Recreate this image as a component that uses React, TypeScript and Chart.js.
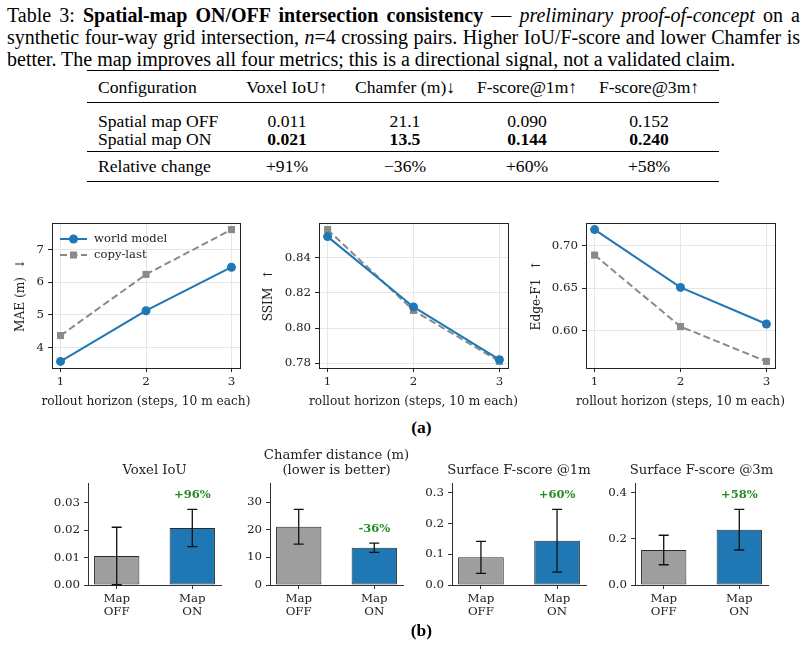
import React, { useEffect, useRef } from "react";
import { Chart, registerables } from "chart.js";
Chart.register(...registerables);

// ---------------- data ----------------
const HORIZON = [1, 2, 3];
const MAE_WORLD = [3.58, 5.13, 6.46];
const MAE_COPY = [4.37, 6.24, 7.61];
const SSIM_WORLD = [0.852, 0.812, 0.782];
const SSIM_COPY = [0.856, 0.81, 0.781];
const EDGE_WORLD = [0.719, 0.651, 0.608];
const EDGE_COPY = [0.689, 0.605, 0.564];
const MAE_TICKS = [4, 5, 6, 7];
const SSIM_TICKS = [0.78, 0.8, 0.82, 0.84];
const EDGE_TICKS = [0.6, 0.65, 0.7];
const SERIES_NAMES = ["world model", "copy-last"];
const X_LABEL = "rollout horizon (steps, 10 m each)";

const BAR_CATS = [["Map", "OFF"], ["Map", "ON"]];
const IOU_VALUES = [0.0106, 0.0208];
const IOU_ERR = [0.0105, 0.0068];
const CHAMFER_VALUES = [21.1, 13.5];
const CHAMFER_ERR = [6.3, 1.7];
const F1_VALUES = [0.09, 0.144];
const F1_ERR = [0.052, 0.102];
const F3_VALUES = [0.152, 0.24];
const F3_ERR = [0.064, 0.088];
const IOU_TICKS = [0, 0.01, 0.02, 0.03];
const CHAMFER_TICKS = [0, 10, 20, 30];
const F1_TICKS = [0, 0.1, 0.2, 0.3];
const F3_TICKS = [0, 0.2, 0.4];
const CHANGE_LABELS = ["+96%", "-36%", "+60%", "+58%"];

const TABLE_HEADERS = ["Configuration", "Voxel IoU↑", "Chamfer (m)↓", "F-score@1m↑", "F-score@3m↑"];
const ROW_OFF = ["Spatial map OFF", "0.011", "21.1", "0.090", "0.152"];
const ROW_ON = ["Spatial map ON", "0.021", "13.5", "0.144", "0.240"];
const ROW_REL = ["Relative change", "+91%", "−36%", "+60%", "+58%"];

// ---------------- styles ----------------
const SERIF = "'DejaVu Serif', serif";
const TIMES = "'Liberation Serif', 'Times New Roman', serif";
const BLUE = "#1f77b4";
const GRAYL = "#8a8a8a";
const BAR_GRAY = "#9e9e9e";
const GRID = "#e6e6e6";
const FRAME = "#222";
const SPINE = "#333";
const GREEN = "#238b23";
const TICK_FS = 11.8;
const LABEL_FS = 12.2;
const TITLE_FS = 13.2;
const LEGEND_FS = 11.6;
const ANNOT_FS = 11.5;

Chart.defaults.font.family = SERIF;
Chart.defaults.color = "#222";

type Rect = { x: number; y: number; w: number; h: number };
type Plot = { l: number; t: number; r: number; b: number };

function span(arrs: number[][], m = 0.05) {
  const all = arrs.flat();
  const lo = Math.min(...all);
  const hi = Math.max(...all);
  const d = (hi - lo) * m;
  return [lo - d, hi + d];
}

// draws free text (axis labels / titles) without width compression
const textPlugin = {
  id: "freeText",
  afterDraw(chart: any, _args: any, opts: any) {
    if (!opts) return;
    const a = chart.chartArea;
    const ctx = chart.ctx;
    const cx = (a.left + a.right) / 2;
    ctx.save();
    ctx.fillStyle = "#222";
    ctx.textAlign = "center";
    ctx.textBaseline = "middle";
    if (opts.xLabel) {
      ctx.font = `${LABEL_FS}px ${SERIF}`;
      ctx.fillText(opts.xLabel, cx, a.bottom + opts.xLabelOffset);
    }
    if (opts.title) {
      const lines: string[] = Array.isArray(opts.title) ? opts.title : [opts.title];
      ctx.font = `${TITLE_FS}px ${SERIF}`;
      lines.forEach((ln, i) => {
        ctx.fillText(ln, cx, a.top - 12 - (lines.length - 1 - i) * 15);
      });
    }
    ctx.restore();
  },
};

const framePlugin = {
  id: "frameLegend",
  beforeDatasetsDraw(chart: any) {
    const a = chart.chartArea;
    const ctx = chart.ctx;
    ctx.save();
    ctx.strokeStyle = FRAME;
    ctx.lineWidth = 1;
    ctx.strokeRect(Math.round(a.left) + 0.5, Math.round(a.top) + 0.5, Math.round(a.right - a.left), Math.round(a.bottom - a.top));
    ctx.restore();
  },
  afterDatasetsDraw(chart: any, _args: any, opts: any) {
    if (!opts || !opts.legend) return;
    const a = chart.chartArea;
    const ctx = chart.ctx;
    ctx.save();
    chart.data.datasets.forEach((ds: any, i: number) => {
      const y = a.top + 16 + i * 16;
      const x0 = a.left + 8;
      const x1 = a.left + 35;
      ctx.strokeStyle = ds.borderColor;
      ctx.lineWidth = ds.borderWidth;
      ctx.setLineDash(ds.borderDash || []);
      ctx.beginPath();
      ctx.moveTo(x0, y);
      ctx.lineTo(x1, y);
      ctx.stroke();
      ctx.setLineDash([]);
      ctx.fillStyle = ds.pointBackgroundColor;
      const mx = (x0 + x1) / 2;
      if (ds.pointStyle === "rect") {
        const s = ds.pointRadius * Math.SQRT1_2;
        ctx.fillRect(mx - s, y - s, 2 * s, 2 * s);
      } else {
        ctx.beginPath();
        ctx.arc(mx, y, ds.pointRadius, 0, Math.PI * 2);
        ctx.fill();
      }
      ctx.fillStyle = "#222";
      ctx.font = `${LEGEND_FS}px ${SERIF}`;
      ctx.textBaseline = "middle";
      ctx.textAlign = "left";
      ctx.fillText(ds.label, a.left + 42, y);
    });
    ctx.restore();
  },
};

const errBarPlugin = {
  id: "errBars",
  afterDatasetsDraw(chart: any, _args: any, opts: any) {
    if (!opts || !opts.errors) return;
    const ys = chart.scales.y;
    const xs = chart.scales.x;
    const ctx = chart.ctx;
    const data = chart.data.datasets[0].data;
    ctx.save();
    ctx.strokeStyle = "#111";
    ctx.lineWidth = 1.3;
    data.forEach((d: any, i: number) => {
      const e = opts.errors[i];
      const x = xs.getPixelForValue(d.x);
      const yT = ys.getPixelForValue(d.y + e);
      const yB = ys.getPixelForValue(Math.max(d.y - e, ys.min));
      ctx.beginPath();
      ctx.moveTo(x, yT);
      ctx.lineTo(x, yB);
      ctx.moveTo(x - 5, yT);
      ctx.lineTo(x + 5, yT);
      ctx.moveTo(x - 5, yB);
      ctx.lineTo(x + 5, yB);
      ctx.stroke();
    });
    const last = data.length - 1;
    const d = data[last];
    const yl = ys.getPixelForValue(d.y + opts.errors[last]) - 14;
    ctx.fillStyle = GREEN;
    ctx.font = `bold ${ANNOT_FS}px ${SERIF}`;
    ctx.textAlign = "center";
    ctx.textBaseline = "middle";
    ctx.fillText(opts.label, xs.getPixelForValue(d.x), yl);
    ctx.restore();
  },
};

function lineConfig(canvas: Rect, plot: Plot, world: number[], copy: number[], ticks: number[], dec: number, yTitle: string, yTitleX: number, legend: boolean): any {
  const [ymin, ymax] = span([world, copy]);
  const [xmin, xmax] = span([HORIZON]);
  const lhT = LABEL_FS * 1.2;
  return {
    type: "line",
    data: {
      datasets: [
        {
          label: SERIES_NAMES[0],
          data: HORIZON.map((h, i) => ({ x: h, y: world[i] })),
          borderColor: BLUE,
          backgroundColor: BLUE,
          borderWidth: 2,
          pointStyle: "circle",
          pointRadius: 4.5,
          pointBorderWidth: 0,
          pointBackgroundColor: BLUE,
          pointBorderColor: BLUE,
        },
        {
          label: SERIES_NAMES[1],
          data: HORIZON.map((h, i) => ({ x: h, y: copy[i] })),
          borderColor: GRAYL,
          backgroundColor: GRAYL,
          borderWidth: 2,
          borderDash: [7, 3.5],
          pointStyle: "rect",
          pointRadius: 5,
          pointBorderWidth: 0,
          pointBackgroundColor: GRAYL,
          pointBorderColor: GRAYL,
        },
      ],
    },
    options: {
      responsive: false,
      animation: false,
      events: [],
      layout: { padding: { left: 0, top: plot.t - canvas.y, right: canvas.x + canvas.w - plot.r, bottom: 0 } },
      plugins: {
        legend: { display: false },
        tooltip: { enabled: false },
        frameLegend: { legend },
        freeText: { xLabel: X_LABEL, xLabelOffset: 34 },
      },
      scales: {
        x: {
          type: "linear",
          min: xmin,
          max: xmax,
          afterBuildTicks: (s: any) => {
            s.ticks = HORIZON.map((v) => ({ value: v }));
          },
          afterFit: (s: any) => {
            s.height = canvas.y + canvas.h - plot.b;
          },
          ticks: { font: { size: TICK_FS }, padding: 3, color: "#222", callback: (v: any) => String(v) },
          grid: { color: GRID, tickColor: FRAME, tickLength: 4 },
          border: { display: false },
        },
        y: {
          type: "linear",
          min: ymin,
          max: ymax,
          afterBuildTicks: (s: any) => {
            s.ticks = ticks.map((v) => ({ value: v }));
          },
          afterFit: (s: any) => {
            s.width = plot.l - canvas.x;
          },
          ticks: { font: { size: TICK_FS }, padding: 4, color: "#222", callback: (v: any) => Number(v).toFixed(dec) },
          grid: { color: GRID, tickColor: FRAME, tickLength: 4 },
          border: { display: false },
          title: {
            display: true,
            text: yTitle,
            color: "#222",
            font: { size: LABEL_FS, lineHeight: 1.2 },
            padding: { top: yTitleX - canvas.x - lhT / 2, bottom: 0 },
          },
        },
      },
    },
    plugins: [framePlugin, textPlugin],
  };
}

function barConfig(canvas: Rect, plot: Plot, title: string | string[], values: number[], errs: number[], ticks: number[], dec: number, change: string): any {
  const top = Math.max(...values.map((v, i) => v + errs[i])) * 1.35;
  return {
    type: "bar",
    data: {
      datasets: [
        {
          data: values.map((v, i) => ({ x: i, y: v })),
          backgroundColor: [BAR_GRAY, BLUE],
          borderColor: "#2b2b2b",
          borderWidth: 1,
          borderSkipped: false,
          categoryPercentage: 1,
          barPercentage: 0.6,
        },
      ],
    },
    options: {
      responsive: false,
      animation: false,
      events: [],
      layout: { padding: { left: 0, right: canvas.x + canvas.w - plot.r, top: plot.t - canvas.y, bottom: 0 } },
      plugins: {
        legend: { display: false },
        tooltip: { enabled: false },
        errBars: { errors: errs, label: change },
        freeText: { title },
      },
      scales: {
        x: {
          type: "linear",
          min: -0.38,
          max: 1.38,
          offset: false,
          afterBuildTicks: (s: any) => {
            s.ticks = values.map((_, i) => ({ value: i }));
          },
          afterFit: (s: any) => {
            s.height = canvas.y + canvas.h - plot.b;
          },
          ticks: { font: { size: TICK_FS, lineHeight: 1.1 }, padding: 3, color: "#222", maxRotation: 0, callback: (v: any) => BAR_CATS[Math.round(v)] },
          grid: { offset: false, drawOnChartArea: false, tickLength: 4, tickColor: SPINE },
          border: { color: SPINE, width: 1 },
        },
        y: {
          type: "linear",
          min: 0,
          max: top,
          afterBuildTicks: (s: any) => {
            s.ticks = ticks.map((v) => ({ value: v }));
          },
          afterFit: (s: any) => {
            s.width = plot.l - canvas.x;
          },
          ticks: { font: { size: TICK_FS }, padding: 4, color: "#222", callback: (v: any) => Number(v).toFixed(dec) },
          grid: { drawOnChartArea: false, tickLength: 4, tickColor: SPINE },
          border: { color: SPINE, width: 1 },
        },
      },
    },
    plugins: [errBarPlugin, textPlugin],
  };
}

function ChartBox({ rect, make }: { rect: Rect; make: () => any }) {
  const ref = useRef<HTMLCanvasElement>(null);
  useEffect(() => {
    const c = new Chart(ref.current as HTMLCanvasElement, make());
    return () => c.destroy();
  }, []);
  return (
    <canvas
      ref={ref}
      width={rect.w}
      height={rect.h}
      style={{ position: "absolute", left: rect.x, top: rect.y, width: rect.w, height: rect.h }}
    />
  );
}

const COL_CENTERS = [0, 287, 405, 527, 649];

function Row({ cells, top, bold }: { cells: string[]; top: number; bold?: boolean }) {
  return (
    <>
      {cells.map((c, i) =>
        i === 0 ? (
          <div key={i} style={{ position: "absolute", left: 98, top, lineHeight: "20px", whiteSpace: "nowrap" }}>{c}</div>
        ) : (
          <div
            key={i}
            style={{
              position: "absolute",
              left: COL_CENTERS[i] - 70,
              width: 140,
              textAlign: "center",
              top,
              lineHeight: "20px",
              whiteSpace: "nowrap",
              fontWeight: bold ? "bold" : "normal",
            }}
          >
            {c}
          </div>
        )
      )}
    </>
  );
}

function Rule({ y, h }: { y: number; h: number }) {
  return <div style={{ position: "absolute", left: 87, width: 632, top: y, height: h, background: "#000" }} />;
}

export default function App() {
  const a1c = { x: 0, y: 205, w: 250, h: 207 };
  const a2c = { x: 258, y: 205, w: 260, h: 207 };
  const a3c = { x: 525, y: 205, w: 265, h: 207 };
  const a1p = { l: 52, t: 223, r: 240, b: 368 };
  const a2p = { l: 319, t: 223, r: 508, b: 368 };
  const a3p = { l: 586, t: 223, r: 775, b: 368 };

  const b1c = { x: 30, y: 440, w: 200, h: 185 };
  const b2c = { x: 230, y: 440, w: 182, h: 185 };
  const b3c = { x: 412, y: 440, w: 183, h: 185 };
  const b4c = { x: 595, y: 440, w: 183, h: 185 };
  const b1p = { l: 88, t: 483, r: 221, b: 585 };
  const b2p = { l: 270, t: 483, r: 403, b: 585 };
  const b3p = { l: 452, t: 483, r: 586, b: 585 };
  const b4p = { l: 635, t: 483, r: 768, b: 585 };

  return (
    <div style={{ position: "fixed", left: 0, top: 0, width: 805, height: 646, background: "#fff", overflow: "hidden" }}>
      <div style={{ position: "absolute", left: 7, top: 3.7, width: 793, fontFamily: TIMES, fontSize: 20, lineHeight: "22px", color: "#000" }}>
        <div style={{ textAlign: "justify", textAlignLast: "justify" as any, whiteSpace: "nowrap" }}>
          Table 3: <b>Spatial-map ON/OFF intersection consistency</b> — <i>preliminary proof-of-concept</i> on a
        </div>
        <div style={{ textAlign: "justify", textAlignLast: "justify" as any, whiteSpace: "nowrap" }}>
          synthetic four-way grid intersection, <i>n</i>=4 crossing pairs. Higher IoU/F-score and lower Chamfer is
        </div>
        <div style={{ whiteSpace: "nowrap" }}>better. The map improves all four metrics; this is a directional signal, not a validated claim.</div>
      </div>

      <div style={{ position: "absolute", left: 0, top: 0, width: 805, height: 200, fontFamily: TIMES, fontSize: 17.6, color: "#000" }}>
        <Rule y={69.5} h={1.5} />
        <Row cells={TABLE_HEADERS} top={77.1} />
        <Rule y={101.5} h={0.8} />
        <Row cells={ROW_OFF} top={110.5} />
        <Row cells={ROW_ON} top={129} bold />
        <Rule y={151} h={0.8} />
        <Row cells={ROW_REL} top={156.1} />
        <Rule y={180.5} h={1.5} />
      </div>

      <ChartBox rect={a1c} make={() => lineConfig(a1c, a1p, MAE_WORLD, MAE_COPY, MAE_TICKS, 0, "MAE (m)  ↓", 21, true)} />
      <ChartBox rect={a2c} make={() => lineConfig(a2c, a2p, SSIM_WORLD, SSIM_COPY, SSIM_TICKS, 2, "SSIM  ↑", 269, false)} />
      <ChartBox rect={a3c} make={() => lineConfig(a3c, a3p, EDGE_WORLD, EDGE_COPY, EDGE_TICKS, 2, "Edge-F1  ↑", 537, false)} />

      <div style={{ position: "absolute", left: 400, width: 43, textAlign: "center", top: 417, fontFamily: TIMES, fontSize: 17.5, fontWeight: "bold", lineHeight: "20px" }}>(a)</div>

      <ChartBox rect={b1c} make={() => barConfig(b1c, b1p, "Voxel IoU", IOU_VALUES, IOU_ERR, IOU_TICKS, 2, CHANGE_LABELS[0])} />
      <ChartBox rect={b2c} make={() => barConfig(b2c, b2p, ["Chamfer distance (m)", "(lower is better)"], CHAMFER_VALUES, CHAMFER_ERR, CHAMFER_TICKS, 0, CHANGE_LABELS[1])} />
      <ChartBox rect={b3c} make={() => barConfig(b3c, b3p, "Surface F-score @1m", F1_VALUES, F1_ERR, F1_TICKS, 1, CHANGE_LABELS[2])} />
      <ChartBox rect={b4c} make={() => barConfig(b4c, b4p, "Surface F-score @3m", F3_VALUES, F3_ERR, F3_TICKS, 1, CHANGE_LABELS[3])} />

      <div style={{ position: "absolute", left: 400, width: 43, textAlign: "center", top: 620, fontFamily: TIMES, fontSize: 17.5, fontWeight: "bold", lineHeight: "20px" }}>(b)</div>
    </div>
  );
}
